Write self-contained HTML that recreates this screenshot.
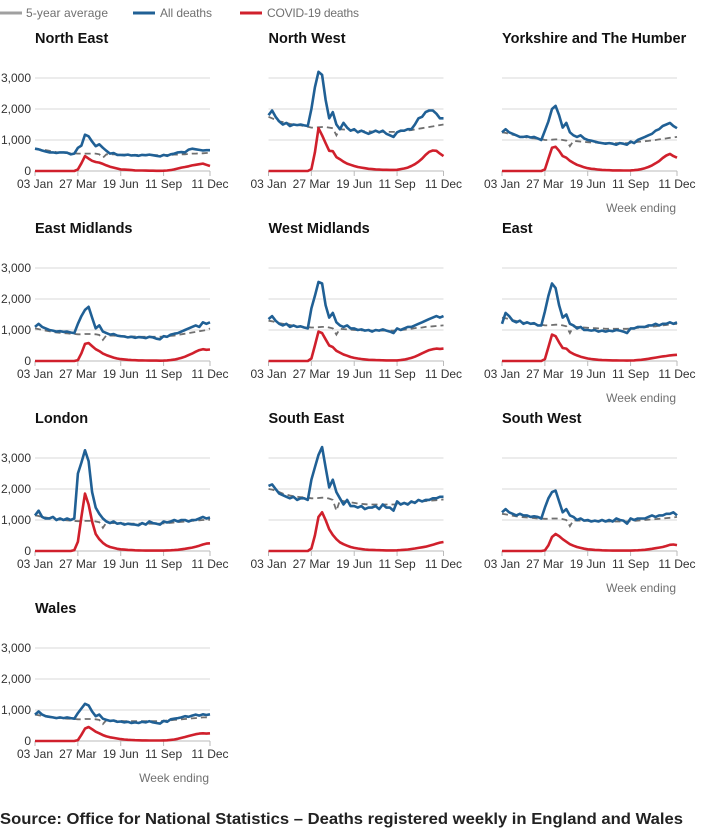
<!DOCTYPE html>
<html><head><meta charset="utf-8"><style>
body{margin:0;background:#fff;font-family:"Liberation Sans",sans-serif;}
svg{display:block}
</style></head><body>
<svg id="c" width="709" height="835" xmlns="http://www.w3.org/2000/svg">
<g font-size="12" fill="#707070">
<line x1="0" y1="13" x2="22" y2="13" stroke="#a0a0a0" stroke-width="3"/>
<text x="26" y="17" textLength="82">5-year average</text>
<line x1="133" y1="13" x2="155" y2="13" stroke="#206095" stroke-width="3"/>
<text x="160" y="17" textLength="52">All deaths</text>
<line x1="240" y1="13" x2="262" y2="13" stroke="#d0202c" stroke-width="3"/>
<text x="267" y="17" textLength="92">COVID-19 deaths</text>
</g>
<text x="0" y="824" font-size="16" font-weight="bold" fill="#222" textLength="683" lengthAdjust="spacingAndGlyphs">Source: Office for National Statistics – Deaths registered weekly in England and Wales</text>
</svg>
<script>
const regions=["North East","North West","Yorkshire and The Humber","East Midlands","West Midlands","East","London","South East","South West","Wales"];
const yTicks=[0,1000,2000,3000];
const yTickLabels=["0","1,000","2,000","3,000"];
const xTickWeeks=[0,12,24,36,49];
const xTickLabels=["03 Jan","27 Mar","19 Jun","11 Sep","11 Dec"];
const allNE=[720,700,660,630,600,600,580,600,600,590,540,560,750,820,1170,1120,950,800,860,750,650,560,580,520,520,510,530,500,510,490,520,510,530,510,490,470,520,490,540,560,600,610,600,690,720,700,680,660,670,670];
const covNE=[0,0,0,0,0,0,0,0,0,0,0,0,50,250,480,400,330,290,270,230,180,140,110,80,50,45,40,30,20,15,15,12,10,10,8,8,10,15,30,50,80,110,130,150,180,200,220,240,200,160];
const avgNE=[720,700,690,670,650,630,610,600,590,580,570,570,560,560,560,560,560,560,540,430,540,540,540,540,530,530,530,520,520,520,520,510,510,510,510,510,510,520,520,530,530,540,540,550,560,560,570,570,580,580];
const allNW=[1800,1950,1750,1600,1500,1550,1450,1500,1480,1500,1470,1450,2000,2700,3200,3100,2300,1700,1900,1500,1350,1550,1400,1300,1350,1250,1300,1250,1200,1250,1300,1250,1300,1200,1150,1100,1250,1300,1300,1350,1350,1500,1700,1750,1900,1950,1950,1850,1700,1700];
const covNW=[0,0,0,0,0,0,0,0,0,0,0,0,60,600,1380,1150,900,650,640,450,380,300,240,200,160,130,110,90,70,60,50,45,40,40,35,35,40,60,80,110,160,220,300,400,520,620,660,650,560,480];
const avgNW=[1750,1700,1650,1600,1580,1550,1520,1500,1480,1470,1450,1430,1400,1400,1410,1420,1420,1400,1380,1150,1350,1340,1330,1320,1310,1300,1290,1280,1280,1270,1270,1260,1260,1260,1260,1260,1260,1280,1300,1310,1320,1340,1360,1380,1400,1420,1440,1460,1480,1500];
const allYH=[1250,1350,1250,1200,1150,1100,1100,1120,1080,1100,1050,1000,1300,1600,2000,2100,1800,1400,1550,1250,1150,1100,1150,1050,1000,980,950,920,900,880,900,880,850,900,880,850,950,900,1000,1050,1100,1150,1200,1300,1350,1450,1500,1550,1450,1380];
const covYH=[0,0,0,0,0,0,0,0,0,0,0,0,50,400,750,780,650,480,430,330,260,200,160,120,90,70,60,45,35,30,25,20,20,18,16,15,18,25,40,60,90,130,180,250,320,420,500,550,480,430];
const avgYH=[1250,1230,1200,1170,1150,1120,1100,1080,1060,1050,1040,1030,1000,1000,1010,1020,1020,1000,980,800,970,960,950,940,930,920,920,910,910,900,900,900,900,900,900,900,910,920,940,950,960,970,990,1000,1020,1040,1050,1070,1080,1100];
const allEM=[1100,1200,1100,1050,1000,980,950,960,940,950,920,900,1200,1450,1650,1750,1400,1050,1150,950,900,850,870,820,800,790,760,780,750,770,760,740,780,760,720,700,800,780,850,880,900,950,1000,1050,1100,1150,1100,1250,1200,1250];
const covEM=[0,0,0,0,0,0,0,0,0,0,0,0,30,250,550,580,480,380,320,240,190,150,110,80,60,50,40,30,25,20,18,15,14,12,12,10,12,18,30,45,70,100,140,190,240,300,350,380,360,370];
const avgEM=[1050,1030,1000,980,960,940,920,910,900,890,880,870,860,860,870,870,870,860,840,680,830,820,820,810,800,800,790,790,790,780,780,780,780,780,780,780,790,800,810,820,840,860,880,900,920,940,960,980,1000,1050];
const allWM=[1350,1450,1300,1200,1150,1200,1100,1150,1100,1120,1080,1050,1700,2100,2550,2500,1800,1400,1550,1250,1150,1100,1150,1050,1050,1000,1020,980,1000,950,1000,980,1020,980,950,900,1050,1000,1050,1100,1100,1150,1200,1250,1300,1350,1400,1450,1400,1450];
const covWM=[0,0,0,0,0,0,0,0,0,0,0,0,80,500,950,900,700,500,450,330,270,210,170,130,100,80,65,50,40,35,30,25,22,20,18,18,20,30,45,70,100,140,190,250,300,350,380,400,390,400];
const avgWM=[1300,1280,1250,1220,1200,1180,1160,1140,1120,1110,1100,1090,1080,1080,1090,1100,1100,1080,1050,850,1040,1030,1020,1010,1000,1000,990,990,990,980,980,980,980,980,980,980,990,1000,1010,1020,1040,1060,1070,1080,1100,1110,1120,1130,1140,1150];
const allEA=[1200,1550,1450,1300,1250,1300,1200,1250,1200,1220,1150,1150,1600,2100,2500,2350,1800,1400,1500,1200,1150,1050,1100,1000,1000,980,1000,950,980,950,980,960,1000,980,950,900,1050,1050,1100,1100,1100,1150,1150,1200,1150,1200,1200,1250,1200,1250];
const covEA=[0,0,0,0,0,0,0,0,0,0,0,0,60,450,850,800,600,420,400,290,230,180,140,110,80,65,50,40,30,25,22,20,18,16,15,14,15,20,30,40,55,70,90,110,130,150,160,180,190,200];
const avgEA=[1400,1380,1350,1320,1290,1260,1240,1220,1200,1190,1180,1170,1150,1150,1160,1170,1170,1150,1120,900,1110,1100,1090,1080,1070,1060,1060,1050,1050,1040,1040,1040,1040,1040,1040,1040,1050,1060,1070,1080,1090,1100,1110,1120,1140,1150,1160,1180,1190,1200];
const allLO=[1150,1300,1100,1050,1050,1100,1000,1050,1000,1050,1000,1050,2500,2850,3250,2900,1900,1400,1200,1050,950,900,950,880,900,850,880,860,850,830,900,850,950,900,880,850,950,920,950,1000,950,1000,1000,950,1000,1000,1050,1100,1050,1080];
const covLO=[0,0,0,0,0,0,0,0,0,0,0,30,300,1100,1850,1500,950,550,380,260,180,130,100,70,55,45,35,28,22,18,15,14,12,12,12,12,14,18,24,30,40,55,70,90,110,140,170,210,240,250];
const avgLO=[1150,1130,1100,1080,1060,1040,1020,1010,1000,990,980,970,960,960,970,970,970,950,930,750,920,910,900,900,890,890,880,880,880,880,880,880,880,880,880,880,890,900,910,920,930,940,950,960,970,980,990,1000,1000,1010];
const allSE=[2100,2150,2000,1850,1800,1750,1700,1750,1650,1700,1700,1650,2300,2700,3100,3350,2700,2050,2300,1900,1700,1500,1650,1450,1450,1400,1450,1350,1400,1400,1450,1350,1500,1400,1400,1300,1600,1500,1550,1500,1600,1550,1650,1600,1650,1650,1700,1700,1750,1750];
const covSE=[0,0,0,0,0,0,0,0,0,0,0,0,80,500,1100,1250,1000,700,520,380,280,220,170,130,100,80,65,50,40,35,30,25,22,20,20,20,22,28,38,50,65,80,100,120,140,170,200,240,270,290];
const avgSE=[2000,1980,1950,1900,1850,1820,1790,1770,1750,1740,1730,1720,1700,1700,1710,1720,1720,1690,1650,1300,1630,1610,1590,1570,1550,1530,1520,1510,1500,1500,1500,1500,1500,1500,1500,1500,1510,1520,1530,1540,1560,1580,1590,1600,1610,1620,1630,1640,1650,1660];
const allSW=[1250,1350,1250,1200,1150,1200,1150,1150,1100,1120,1100,1050,1400,1700,1900,1950,1600,1250,1350,1150,1100,1000,1050,980,1000,950,980,950,1000,950,1000,950,1050,1000,980,880,1050,1000,1050,1050,1050,1100,1150,1100,1150,1150,1200,1200,1250,1150];
const covSW=[0,0,0,0,0,0,0,0,0,0,0,0,20,180,450,550,480,380,300,220,170,130,100,75,55,45,35,28,22,18,15,14,12,12,12,12,14,18,24,30,40,55,70,90,110,130,160,200,210,190];
const avgSW=[1200,1180,1160,1140,1120,1100,1090,1080,1070,1060,1050,1050,1040,1040,1050,1050,1050,1030,1000,800,990,980,980,970,970,960,960,960,950,950,950,950,950,950,950,950,960,970,980,990,1000,1010,1020,1030,1040,1050,1060,1070,1080,1100];
const allWA=[850,950,850,800,780,760,740,760,740,760,740,720,900,1050,1200,1150,950,800,850,720,680,650,660,620,630,600,620,580,600,580,620,600,640,600,580,560,650,620,700,720,740,760,800,780,820,850,820,860,840,860];
const covWA=[0,0,0,0,0,0,0,0,0,0,0,0,30,200,400,450,380,300,250,190,150,120,100,80,60,50,40,32,26,22,20,18,16,15,15,15,18,24,35,50,70,100,130,160,190,220,240,250,240,250];
const avgWA=[850,830,810,790,770,760,750,740,730,720,720,710,700,700,710,710,710,700,680,550,670,660,660,650,650,640,640,640,640,640,640,640,640,640,640,640,650,660,670,680,690,700,710,720,730,740,750,760,760,770];
const allSeries=[allNE,allNW,allYH,allEM,allWM,allEA,allLO,allSE,allSW,allWA];
const covSeries=[covNE,covNW,covYH,covEM,covWM,covEA,covLO,covSE,covSW,covWA];
const avgSeries=[avgNE,avgNW,avgYH,avgEM,avgWM,avgEA,avgLO,avgSE,avgSW,avgWA];

const svg=document.getElementById('c');
const NS="http://www.w3.org/2000/svg";
function mk(tag,attrs,parent){const e=document.createElementNS(NS,tag);for(const k in attrs)e.setAttribute(k,attrs[k]);parent.appendChild(e);return e;}
const W=175,H=93,YMAX=3000,NW=49;
regions.forEach((name,i)=>{
  const col=i%3,row=Math.floor(i/3);
  const x0=35+col*233.5,y0=171+row*190;
  const xs=w=>x0+w/NW*W, ys=v=>y0-v/YMAX*H;
  const slug=name.toLowerCase().replace(/[^a-z]+/g,'-');
  const g=mk('g',{},svg);
  
  
  const t=mk('text',{x:x0,y:y0-128,'font-size':14.5,'font-weight':'bold',fill:'#111'},g);
  t.textContent=name;
  
  
  yTicks.forEach((v,k)=>{
    if(v>0){const l=mk('line',{x1:x0,x2:x0+W,y1:ys(v),y2:ys(v),stroke:'#d9d9d9','stroke-width':1},g);
      
      }
    if(col===0){const tl=mk('text',{x:x0-4,y:ys(v)+4,'font-size':12,fill:'#333','text-anchor':'end'},g);
      tl.textContent=yTickLabels[k];
      
      }
  });
  const ax=mk('line',{x1:x0,x2:x0+W,y1:y0,y2:y0,stroke:'#bbb','stroke-width':1},g);
  
  
  xTickWeeks.forEach((w,k)=>{
    const tk=mk('line',{x1:xs(w),x2:xs(w),y1:y0,y2:y0+5,stroke:'#bbb'},g);
    
    
    const tl=mk('text',{x:xs(w),y:y0+17,'font-size':12,fill:'#333','text-anchor':'middle'},g);
    tl.textContent=xTickLabels[k];
    
    
  });
  const pts=a=>a.map((v,w)=>xs(w).toFixed(1)+','+ys(v).toFixed(1)).join(' ');
  const pa=mk('polyline',{points:pts(avgSeries[i]),fill:'none',stroke:'#707070','stroke-width':1.8,'stroke-dasharray':'6 4'},g);
  
  
  const pc=mk('polyline',{points:pts(covSeries[i]),fill:'none',stroke:'#d0202c','stroke-width':2.6,'stroke-linejoin':'round'},g);
  
  
  const pl=mk('polyline',{points:pts(allSeries[i]),fill:'none',stroke:'#206095','stroke-width':2.6,'stroke-linejoin':'round'},g);
  
  
  if(col===2||i===9){
    const we=mk('text',{x:x0+W-1,y:y0+41,'font-size':12,fill:'#707070','text-anchor':'end'},g);
    we.textContent='Week ending';
    
    
  }
});
</script>
</body></html>
